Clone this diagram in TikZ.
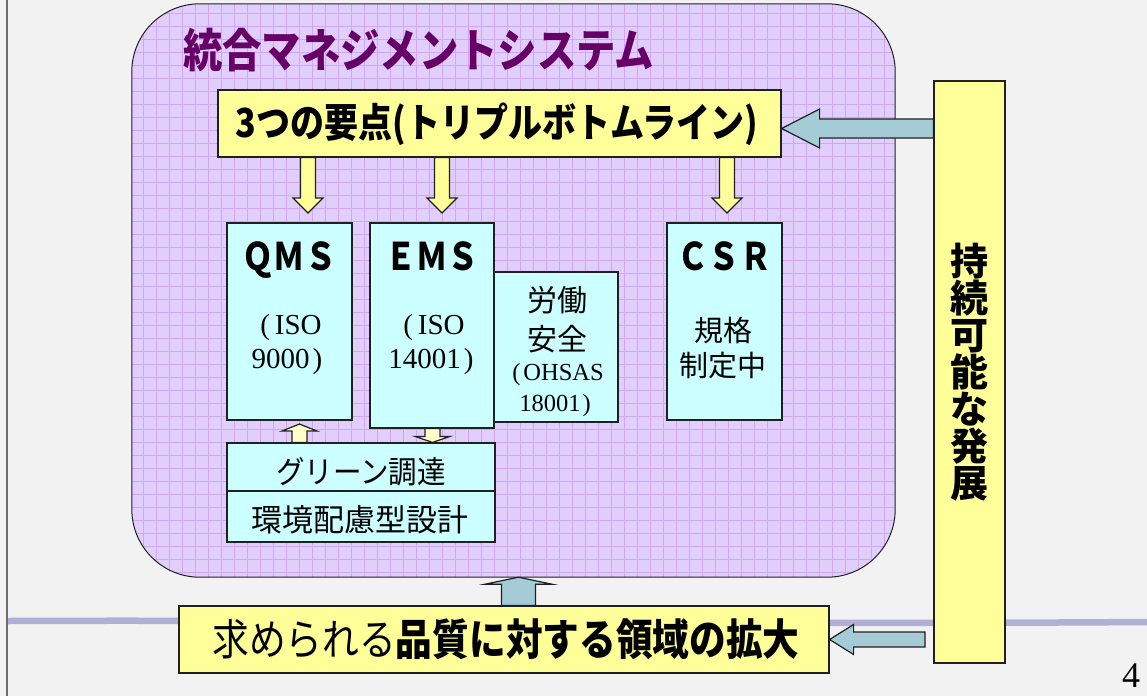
\documentclass[tikz,border=0pt]{standalone}
\usepackage{fontspec}
\setmainfont{Liberation Serif}
\newfontfamily\jp{Noto Sans CJK JP}
\usetikzlibrary{calc,fit}
\definecolor{bg}{RGB}{242,242,242}
\definecolor{yel}{HTML}{FFFF99}
\definecolor{syel}{HTML}{FFFFCC}
\definecolor{cya}{HTML}{CCFFFF}
\definecolor{blu}{HTML}{A5CBD7}
\definecolor{edge}{HTML}{202020}
\definecolor{pfill}{RGB}{226,206,252}
\definecolor{pgrid}{RGB}{206,168,244}
\definecolor{titlec}{HTML}{660066}
\definecolor{wavec}{RGB}{176,176,214}
\definecolor{leftc}{RGB}{110,110,110}
\newcommand\hsq[2]{\scalebox{#1}[1]{#2}}
\newcommand\blockarrow[6]{%
  \coordinate (bah) at ($(#3)!#6!(#2)$);
  \draw[#1] ($(#2)!#4!90:(#3)$) -- ($(bah)!#4!90:(#3)$) -- ($(bah)!#5!90:(#3)$) -- (#3)
    -- ($(bah)!#5!-90:(#3)$) -- ($(bah)!#4!-90:(#3)$) -- ($(#2)!#4!-90:(#3)$) -- cycle;}
\begin{document}
\begin{tikzpicture}[x=1pt,y=-1pt,
  ybox/.style={draw=edge, line width=1.2pt, inner sep=0, fill=yel},
  cbox/.style={draw=edge, line width=1.2pt, inner sep=0, fill=cya},
  lbl/.style={inner sep=0, anchor=base},
  jpf/.style={font={\jp\fontsize{#1}{#1}\selectfont}},
  jpb/.style={font={\jp\bfseries\fontsize{#1}{#1}\selectfont}},
  ser/.style={font={\fontsize{#1}{#1}\selectfont}},
  yarr/.style={draw=edge, line width=1.2pt, fill=yel, line join=miter},
  sarr/.style={draw=edge, line width=1.2pt, fill=syel, line join=miter},
  barr/.style={draw=edge, line width=1.2pt, fill=blu, line join=miter}]
\fill[bg] (0,0) rectangle (1147,696);
\useasboundingbox (0,0) rectangle (1147,696);
% decorative stroke and left rule
\draw[wavec, line width=6.5pt] (8,621) .. controls (300,619.5) and (700,625) .. (1147,622);
\draw[leftc, line width=2.5pt] (7,0) -- (7,696);
% integrated management system container
\node[fit={(132,4) (895,577)}, inner sep=0, fill=pfill, rounded corners=68pt] (ims) {};
\begin{scope}
  \clip[rounded corners=68pt] (132,4) rectangle (895,577);
  \draw[pgrid, line width=0.7pt, step=13pt] (132,4) grid (895,577);
\end{scope}
\draw[edge, line width=1pt, rounded corners=68pt] (ims.north west) rectangle (ims.south east);
\node[anchor=base west, inner sep=0, text=titlec, jpb=46] (title) at (183,67)
  {\hsq{0.855}{統合マネジメントシステム}};
% top box
\node[ybox, fit={(218,90) (781,157)}] (top) {};
\node[lbl, jpb=40] (toptxt) at (497,137.5) {\hsq{0.85}{3つの要点(トリプルボトムライン)}};
% standard boxes
\node[cbox, fit={(227,223) (352,420)}] (qms) {};
\node[cbox, fit={(370,223) (494,428)}] (ems) {};
\node[cbox, fit={(494,272) (618,422)}] (ohs) {};
\node[cbox, fit={(667,223) (782,420)}] (csr) {};
\node[lbl, jpb=38] (qmsl) at (289.5,270) {\hsq{0.82}{ＱＭＳ}};
\node[lbl, jpb=38] (emsl) at (432,270) {\hsq{0.82}{ＥＭＳ}};
\node[lbl, jpb=38] (csrl) at (724.5,270) {\hsq{0.82}{ＣＳＲ}};
\node[lbl, ser=29] (qms1) at (291,334) {(\hspace{5pt}ISO};
\node[lbl, ser=29] (qms2) at (287,368) {9000\hspace{3pt})};
\node[lbl, ser=29] (ems1) at (434,334) {(\hspace{5pt}ISO};
\node[lbl, ser=29] (ems2) at (431,368) {14001\hspace{3pt})};
\node[lbl, jpf=30] (ohs1) at (557,311) {労働};
\node[lbl, jpf=30] (ohs2) at (557,350) {安全};
\node[lbl, ser=24.5] (ohs3) at (558,380) {(\hspace{3pt}OHSAS};
\node[lbl, ser=24.5] (ohs4) at (555,411) {18001\hspace{2pt})};
\node[lbl, jpf=29] (csr1) at (723.5,341) {規格};
\node[lbl, jpf=29] (csr2) at (722.5,376) {制定中};
% green procurement / design boxes
\node[cbox, fit={(227,443) (495,491)}] (g1) {};
\node[cbox, fit={(227,491) (495,542)}] (g2) {};
\node[lbl, jpf=31] (g1t) at (361,483) {\hsq{0.92}{グリーン調達}};
\node[lbl, jpf=31] (g2t) at (360,531) {環境配慮型設計};
% sustainable development box
\node[ybox, fit={(934,81) (1005,663)}] (vbox) {};
\node[inner sep=0, align=center, font={\jp\bfseries\fontsize{38}{37}\selectfont}] (vtxt) at (vbox.center)
  {持\\続\\可\\能\\な\\発\\展};
% bottom box
\node[ybox, fit={(179,606) (829,673)}] (bot) {};
\node[lbl, jpf=43] (bottxt) at (506,655) {\hsq{0.853}{求められる\bfseries 品質に対する領域の拡大}};
% yellow arrows
\coordinate (a1s) at (top.south -| 308,0);   \coordinate (a1e) at (308,213);
\coordinate (a2s) at (top.south -| 442,0);   \coordinate (a2e) at (442,213);
\coordinate (a3s) at (top.south -| 727,0);   \coordinate (a3e) at (727,213);
\blockarrow{yarr}{a1s}{a1e}{7.5pt}{15pt}{15pt}
\blockarrow{yarr}{a2s}{a2e}{7.5pt}{15pt}{15pt}
\blockarrow{yarr}{a3s}{a3e}{7.5pt}{15pt}{15pt}
\coordinate (b1s) at (g1.north -| 299.5,0);  \coordinate (b1e) at (299.5,424);
\coordinate (b2s) at (ems.south -| 432.5,0); \coordinate (b2e) at (g1.north -| 432.5,0);
\blockarrow{sarr}{b1s}{b1e}{7.5pt}{17.5pt}{7pt}
\blockarrow{sarr}{b2s}{b2e}{7.5pt}{17.5pt}{6pt}
% blue arrows
\coordinate (c1s) at (vbox.west |- 0,128.5); \coordinate (c1e) at (top.east |- 0,128.5);
\coordinate (c2s) at (925,639.5);            \coordinate (c2e) at (bot.east);
\coordinate (c3s) at (bot.north -| 518.5,0); \coordinate (c3e) at (ims.south -| 518.5,0);
\blockarrow{barr}{c1s}{c1e}{9.5pt}{19.5pt}{38pt}
\blockarrow{barr}{c2s}{c2e}{7.5pt}{15pt}{24pt}
\blockarrow{barr}{c3s}{c3e}{17pt}{33.5pt}{7pt}
% page number
\node[lbl, ser=36] (pg) at (1131,687) {4};
\end{tikzpicture}
\end{document}
